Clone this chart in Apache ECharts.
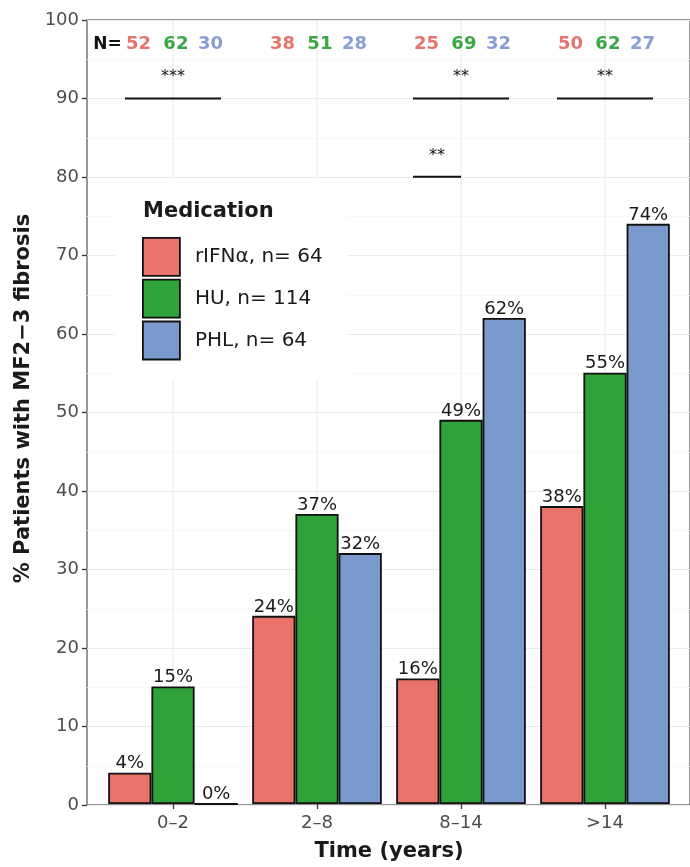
<!DOCTYPE html>
<html>
<head>
<meta charset="utf-8">
<script src="https://cdn.jsdelivr.net/npm/echarts@6/dist/echarts.min.js"></script>
<style>html,body{margin:0;padding:0;background:#fff;}#c{width:690px;height:867px;}</style>
</head>
<body>
<div id="c"></div>
<script>
const categories = ['0–2', '2–8', '8–14', '>14'];
const seriesNames = ['rIFNα, n= 64', 'HU, n= 114', 'PHL, n= 64'];
const rifnValues = [4, 24, 16, 38];
const huValues = [15, 37, 49, 55];
const phlValues = [0, 32, 62, 74];
const nRifn = [52, 38, 25, 50];
const nHu = [62, 51, 69, 62];
const nPhl = [30, 28, 32, 27];
const sigCats = [0, 2, 3, 2];
const sigY = [90, 90, 90, 80];
const sigFromGroup = [0, 0, 0, 0];
const sigToGroup = [2, 2, 2, 1];
const sigLabels = ['***', '**', '**', '**'];
const yAxisTitle = '% Patients with MF2−3 fibrosis';
const xAxisTitle = 'Time (years)';
const legendTitle = 'Medication';

const FONT = 'DejaVu Sans';
const barColors = ['#E9736B', '#2FA23A', '#7A9ACE'];
const nColors = ['#E8746E', '#3BA743', '#889FD3'];
const valueSets = [rifnValues, huValues, phlValues];
const nSets = [nRifn, nHu, nPhl];

const nData = [];
categories.forEach((c, i) => nSets.forEach((arr, g) => nData.push([i, g, arr[i]])));
const nOffsets = [-0.24, 0.02, 0.26];

const sigData = sigCats.map((c, k) => [c, sigY[k], sigFromGroup[k], sigToGroup[k], k]);

const chart = echarts.init(document.getElementById('c'), null, {renderer: 'canvas'});
const barSeries = seriesNames.map((name, s) => ({
  name: name,
  type: 'bar',
  xAxisIndex: 1, yAxisIndex: 1,
  data: valueSets[s],
  barGap: '0%',
  barCategoryGap: '10%',
  z: 3,
  itemStyle: {color: barColors[s], borderColor: '#111', borderWidth: 1.8},
  label: {show: true, position: 'top', distance: 0, formatter: '{c}%', fontFamily: FONT, fontSize: 18, color: '#1a1a1a'}
}));

const option = {
  animation: false,
  backgroundColor: '#fff',
  title: {
    text: legendTitle, left: 143, top: 201, padding: 0, z: 10,
    textStyle: {fontFamily: FONT, fontWeight: 'bold', fontSize: 21, color: '#1a1a1a'}
  },
  legend: {
    data: seriesNames, orient: 'vertical', left: 115, top: 178,
    padding: [59, 25, 20, 27], backgroundColor: '#ffffff',
    itemWidth: 37, itemHeight: 38, itemGap: 2, icon: 'rect', selectedMode: false,
    itemStyle: {borderColor: '#111', borderWidth: 1.8},
    textStyle: {fontFamily: FONT, fontSize: 20, color: '#1a1a1a', padding: [0, 0, 0, 10]}
  },
  grid: [
    {left: 87, right: -1, top: 20, bottom: 62, show: true, borderColor: '#757575', borderWidth: 1.5, backgroundColor: 'transparent'},
    {left: 101, right: 13, top: 20, bottom: 62}
  ],
  xAxis: [
    {type: 'value', gridIndex: 0, min: 0, max: 1, show: false},
    {type: 'category', gridIndex: 1, data: categories,
     axisLine: {show: false},
     axisTick: {show: true, alignWithLabel: true, length: 5, lineStyle: {color: '#333', width: 1.3}},
     axisLabel: {fontFamily: FONT, fontSize: 18, color: '#4d4d4d', margin: 10},
     splitLine: {show: false},
     name: xAxisTitle, nameLocation: 'middle', nameGap: 37,
     nameTextStyle: {fontFamily: FONT, fontWeight: 'bold', fontSize: 21, color: '#1a1a1a'}}
  ],
  yAxis: [
    {type: 'value', gridIndex: 0, min: 0, max: 100, interval: 10,
     axisLine: {show: false},
     axisTick: {show: true, length: 5, lineStyle: {color: '#333', width: 1.3}},
     axisLabel: {fontFamily: FONT, fontSize: 18, color: '#4d4d4d', margin: 8},
     splitLine: {show: true, lineStyle: {color: '#ebebeb', width: 1.2}},
     minorTick: {show: false, splitNumber: 2},
     minorSplitLine: {show: true, lineStyle: {color: '#f5f5f5', width: 0.8}},
     name: yAxisTitle, nameLocation: 'middle', nameGap: 52,
     nameTextStyle: {fontFamily: FONT, fontWeight: 'bold', fontSize: 21, color: '#1a1a1a', padding: [0, 0, 0, 28]}},
    {type: 'value', gridIndex: 1, min: 0, max: 100, show: false}
  ],
  series: [
    {
      type: 'custom', xAxisIndex: 1, yAxisIndex: 1, z: 1, silent: true,
      data: categories.map((c, i) => [i]),
      renderItem: function (params, api) {
        const p0 = api.coord([api.value(0), 0]);
        const p1 = api.coord([api.value(0), 100]);
        return {type: 'line', shape: {x1: p0[0], y1: p0[1], x2: p1[0], y2: p1[1]},
                style: {stroke: '#ebebeb', lineWidth: 1.2}};
      }
    },
    ...barSeries,
    {
      type: 'custom', xAxisIndex: 1, yAxisIndex: 1, z: 5, silent: true,
      data: nData,
      renderItem: function (params, api) {
        const i = api.value(0), g = api.value(1), n = api.value(2);
        const bw = api.size([1, 0])[0];
        const p = api.coord([i, 96.9]);
        const children = [{
          type: 'text', x: p[0] + nOffsets[g] * bw, y: p[1],
          style: {text: String(n), fill: nColors[g], font: 'bold 18px "DejaVu Sans"', align: 'center', verticalAlign: 'middle'}
        }];
        if (i === 0 && g === 0) {
          children.push({
            type: 'text', x: p[0] - 0.455 * bw, y: p[1],
            style: {text: 'N=', fill: '#111', font: 'bold 17px "DejaVu Sans"', align: 'center', verticalAlign: 'middle'}
          });
        }
        return {type: 'group', children: children};
      }
    },
    {
      type: 'custom', xAxisIndex: 1, yAxisIndex: 1, z: 5, silent: true,
      data: sigData,
      renderItem: function (params, api) {
        const c = api.value(0), y = api.value(1), g0 = api.value(2), g1 = api.value(3), k = api.value(4);
        const bw = api.size([1, 0])[0];
        const p = api.coord([c, y]);
        const x0 = p[0] + (g0 - 1) / 3 * bw;
        const x1 = p[0] + (g1 - 1) / 3 * bw;
        const ps = api.coord([c, y + 2.7]);
        return {type: 'group', children: [
          {type: 'line', shape: {x1: x0, y1: p[1], x2: x1, y2: p[1]}, style: {stroke: '#111', lineWidth: 2}},
          {type: 'text', x: (x0 + x1) / 2, y: ps[1],
           style: {text: sigLabels[k], fill: '#111', font: '16px "DejaVu Sans"', align: 'center', verticalAlign: 'middle'}}
        ]};
      }
    }
  ]
};
chart.setOption(option);
</script>
</body>
</html>
